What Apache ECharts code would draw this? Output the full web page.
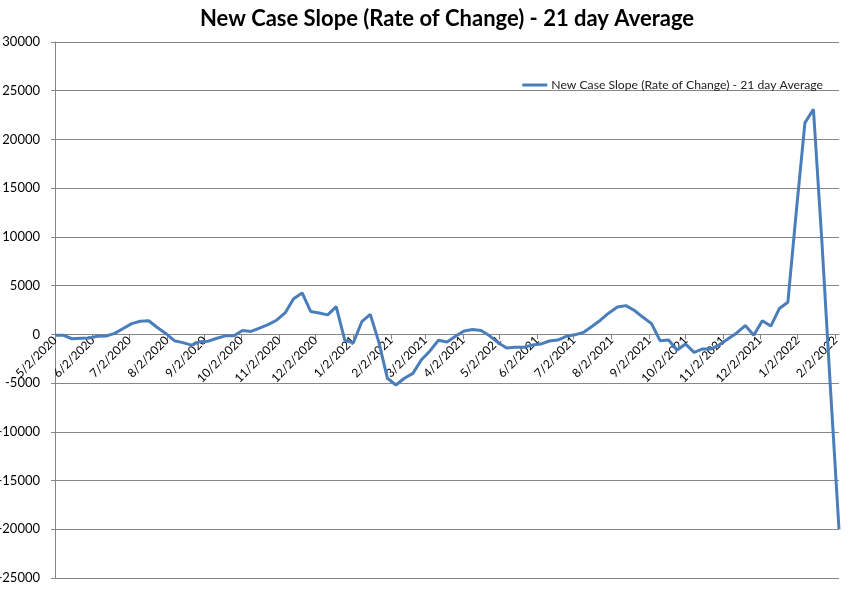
<!DOCTYPE html>
<html><head><meta charset="utf-8">
<script src="https://cdn.jsdelivr.net/npm/echarts@6/dist/echarts.min.js"></script>
<style>html,body{margin:0;padding:0;background:#fff}#c{width:853px;height:597px}</style>
</head><body><div id="c"></div>
<script>
const titleText = 'New Case Slope (Rate of Change) - 21 day Average';
const seriesName = 'New Case Slope (Rate of Change) - 21 day Average';
const startDate = '2020-05-02';   // first weekly point
const endDate = '2022-02-05';     // last weekly point
const stepDays = 7;
const tickLabels = ['5/2/2020','6/2/2020','7/2/2020','8/2/2020','9/2/2020','10/2/2020','11/2/2020','12/2/2020',
  '1/2/2021','2/2/2021','3/2/2021','4/2/2021','5/2/2021','6/2/2021','7/2/2021','8/2/2021','9/2/2021',
  '10/2/2021','11/2/2021','12/2/2021','1/2/2022','2/2/2022'];
const slopeValues = [
  -100, -100, -450, -400, -370, -200, -170, 100, 600, 1100,
  1350, 1400, 700, 100, -650, -850, -1100, -750, -700, -400,
  -150, -150, 400, 300, 650, 1000, 1450, 2200, 3650, 4250,
  2350, 2200, 2000, 2850, -600, -880, 1300, 2050, -800, -4500,
  -5200, -4500, -4000, -2600, -1700, -600, -780, -200, 350, 500,
  400, -150, -850, -1400, -1330, -1330, -1100, -1000, -680, -580,
  -200, -50, 200, 800, 1450, 2200, 2800, 2950, 2450, 1750,
  1100, -650, -580, -1600, -1000, -1850, -1500, -1500, -1050, -450,
  150, 900, -80, 1400, 850, 2650, 3300, 12700, 21700, 23100,
  9400, -5600, -20000
];
const yMin = -25000, yMax = 30000, yInterval = 5000;

// layout
const W = 853, H = 597;
const gridBox = {left: 55, right: 14, top: 42, bottom: 19};
const plotH = H - gridBox.top - gridBox.bottom;
// the category axis crosses the value axis at 0 (Excel style)
const xAxisOffset = -plotH * (0 - yMin) / (yMax - yMin);

// daily categories for a date-style axis
function fmt(d){ return (d.getUTCMonth()+1) + '/' + d.getUTCDate() + '/' + d.getUTCFullYear(); }
const categories = [];
{
  const s = new Date(startDate + 'T00:00:00Z'), e = new Date(endDate + 'T00:00:00Z');
  for (let t = s.getTime(); t <= e.getTime(); t += 86400000) categories.push(fmt(new Date(t)));
}
const tickSet = new Set(tickLabels);
const seriesData = slopeValues.map((v, i) => [categories[i * stepDays], v]);
const showTick = (idx, val) => tickSet.has(val);

const chart = echarts.init(document.getElementById('c'), null, {renderer: 'canvas'});
chart.setOption({
  animation: false,
  backgroundColor: '#ffffff',
  title: {
    text: titleText, left: 442, top: 3, textAlign: 'center',
    textStyle: {fontFamily: 'Lato', fontWeight: 'bold', fontSize: 22, color: '#000'}
  },
  legend: {
    data: [seriesName], right: 25, top: 74, icon: 'rect', itemWidth: 25, itemHeight: 3, itemGap: 4,
    textStyle: {fontFamily: 'Lato', fontSize: 12.2, color: '#222', padding: [0, 0, 0, -1]}
  },
  grid: Object.assign({containLabel: false, outerBoundsMode: 'none'}, gridBox),
  xAxis: {
    type: 'category', data: categories, boundaryGap: false, position: 'bottom', offset: xAxisOffset,
    axisLine: {onZero: false, lineStyle: {color: '#868686', width: 1}},
    axisTick: {show: true, interval: showTick, length: 5, lineStyle: {color: '#868686'}},
    axisLabel: {interval: showTick, rotate: 45, margin: 4, fontFamily: 'Lato', fontSize: 12, color: '#000',
                showMinLabel: true, showMaxLabel: true},
    splitLine: {show: false}
  },
  yAxis: {
    type: 'value', min: yMin, max: yMax, interval: yInterval,
    axisLine: {show: true, onZero: false, lineStyle: {color: '#868686'}},
    axisTick: {show: true, length: 4, lineStyle: {color: '#868686'}},
    axisLabel: {formatter: v => String(v), fontFamily: 'Lato', fontSize: 13, color: '#000', margin: 15},
    splitLine: {show: true, lineStyle: {color: '#868686', width: 1}}
  },
  series: [{
    name: seriesName, type: 'line', data: seriesData,
    symbol: 'none', smooth: false,
    lineStyle: {color: '#4A7EBB', width: 3},
    itemStyle: {color: '#4A7EBB'}
  }]
});
</script></body></html>
